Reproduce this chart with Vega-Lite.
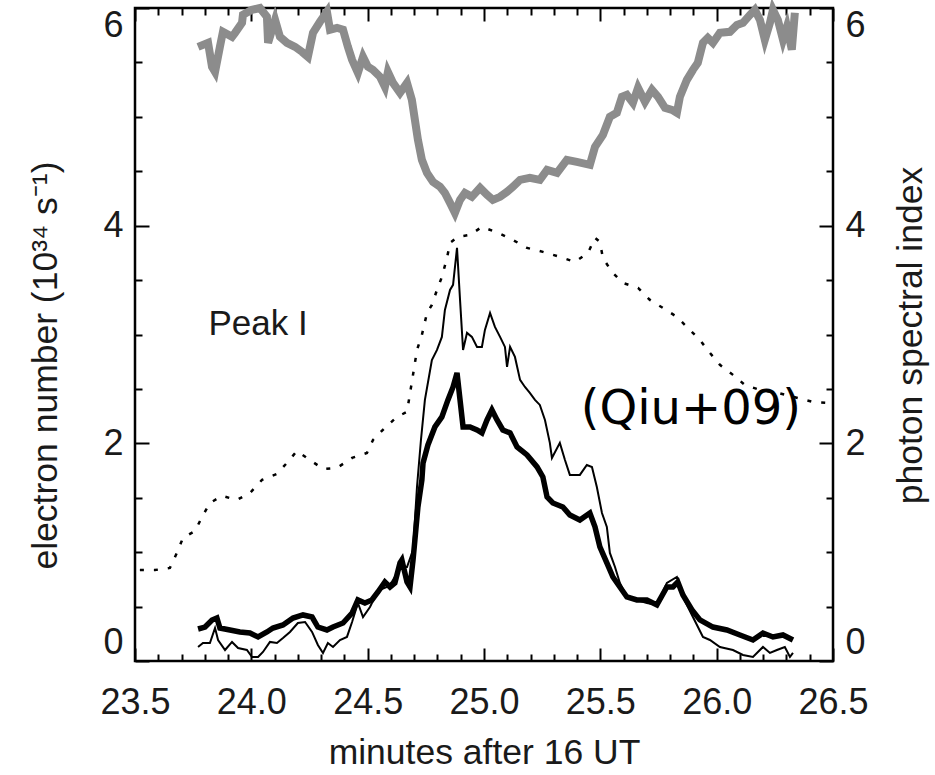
{
  "$schema": "https://vega.github.io/schema/vega-lite/v6.json",
  "autosize": {"type": "none"},
  "padding": {"left": 135, "top": 8, "right": 102, "bottom": 114},
  "width": 698,
  "height": 653,
  "background": "white",
  "config": {
    "view": {"stroke": "black", "strokeWidth": 2.5},
    "axis": {
      "grid": false, "domain": false, "tickColor": "black", "tickWidth": 2,
      "labelFont": "Liberation Sans", "labelFontSize": 36, "labelColor": "#1a1a1a",
      "titleFont": "Liberation Sans", "titleFontSize": 35.5, "titleFontWeight": "normal", "titleColor": "#1a1a1a",
      "labelFlush": false, "labelOverlap": false
    }
  },
  "datasets": {
    "thick": [
      {"t":23.771,"v":0.294},{"t":23.801,"v":0.312},{"t":23.831,"v":0.377},{"t":23.852,"v":0.395},{"t":23.865,"v":0.303},
      {"t":23.908,"v":0.285},{"t":23.951,"v":0.267},{"t":23.994,"v":0.257},{"t":24.029,"v":0.221},{"t":24.067,"v":0.267},
      {"t":24.093,"v":0.303},{"t":24.136,"v":0.331},{"t":24.179,"v":0.395},{"t":24.222,"v":0.423},{"t":24.261,"v":0.404},
      {"t":24.286,"v":0.312},{"t":24.325,"v":0.285},{"t":24.351,"v":0.312},{"t":24.394,"v":0.349},{"t":24.433,"v":0.441},
      {"t":24.458,"v":0.561},{"t":24.488,"v":0.533},{"t":24.518,"v":0.561},{"t":24.544,"v":0.634},{"t":24.574,"v":0.726},
      {"t":24.596,"v":0.680},{"t":24.617,"v":0.717},{"t":24.639,"v":0.901},{"t":24.647,"v":0.928},{"t":24.669,"v":0.726},
      {"t":24.682,"v":0.680},{"t":24.695,"v":0.928},{"t":24.703,"v":1.112},{"t":24.716,"v":1.415},{"t":24.733,"v":1.664},
      {"t":24.738,"v":1.820},{"t":24.759,"v":1.985},{"t":24.789,"v":2.151},{"t":24.819,"v":2.243},{"t":24.845,"v":2.399},
      {"t":24.867,"v":2.518},{"t":24.884,"v":2.647},{"t":24.897,"v":2.399},{"t":24.910,"v":2.151},{"t":24.940,"v":2.151},
      {"t":24.970,"v":2.123},{"t":24.991,"v":2.096},{"t":25.013,"v":2.215},{"t":25.034,"v":2.307},{"t":25.056,"v":2.215},
      {"t":25.081,"v":2.123},{"t":25.112,"v":2.096},{"t":25.142,"v":1.967},{"t":25.185,"v":1.893},{"t":25.228,"v":1.783},
      {"t":25.253,"v":1.691},{"t":25.271,"v":1.507},{"t":25.296,"v":1.452},{"t":25.339,"v":1.415},{"t":25.369,"v":1.342},
      {"t":25.412,"v":1.296},{"t":25.455,"v":1.360},{"t":25.477,"v":1.232},{"t":25.498,"v":1.048},{"t":25.528,"v":0.901},
      {"t":25.554,"v":0.772},{"t":25.584,"v":0.680},{"t":25.614,"v":0.588},{"t":25.657,"v":0.561},{"t":25.700,"v":0.561},
      {"t":25.743,"v":0.515},{"t":25.786,"v":0.680},{"t":25.812,"v":0.680},{"t":25.833,"v":0.726},{"t":25.855,"v":0.607},
      {"t":25.894,"v":0.469},{"t":25.928,"v":0.377},{"t":25.984,"v":0.312},{"t":26.044,"v":0.285},{"t":26.100,"v":0.239},
      {"t":26.156,"v":0.193},{"t":26.199,"v":0.257},{"t":26.242,"v":0.221},{"t":26.285,"v":0.239},{"t":26.328,"v":0.193}
    ],
    "thin": [
      {"t":23.771,"v":0.129},{"t":23.792,"v":0.165},{"t":23.822,"v":0.165},{"t":23.844,"v":0.303},{"t":23.857,"v":0.193},
      {"t":23.887,"v":0.101},{"t":23.917,"v":0.175},{"t":23.943,"v":0.119},{"t":23.981,"v":0.101},{"t":24.003,"v":0.037},
      {"t":24.029,"v":0.037},{"t":24.050,"v":0.083},{"t":24.080,"v":0.175},{"t":24.110,"v":0.165},{"t":24.136,"v":0.211},
      {"t":24.166,"v":0.267},{"t":24.200,"v":0.349},{"t":24.231,"v":0.358},{"t":24.261,"v":0.267},{"t":24.286,"v":0.147},
      {"t":24.308,"v":0.074},{"t":24.329,"v":0.165},{"t":24.351,"v":0.129},{"t":24.381,"v":0.193},{"t":24.411,"v":0.221},
      {"t":24.433,"v":0.358},{"t":24.458,"v":0.533},{"t":24.480,"v":0.404},{"t":24.510,"v":0.496},{"t":24.531,"v":0.588},
      {"t":24.553,"v":0.653},{"t":24.583,"v":0.680},{"t":24.604,"v":0.726},{"t":24.626,"v":0.809},{"t":24.647,"v":0.864},
      {"t":24.669,"v":0.864},{"t":24.695,"v":1.020},{"t":24.712,"v":1.599},{"t":24.729,"v":2.031},{"t":24.746,"v":2.399},
      {"t":24.776,"v":2.766},{"t":24.798,"v":2.858},{"t":24.819,"v":2.978},{"t":24.832,"v":3.226},{"t":24.854,"v":3.410},
      {"t":24.867,"v":3.456},{"t":24.884,"v":3.796},{"t":24.897,"v":3.318},{"t":24.910,"v":2.858},{"t":24.927,"v":3.015},
      {"t":24.948,"v":2.978},{"t":24.970,"v":2.886},{"t":24.991,"v":2.886},{"t":25.004,"v":3.042},{"t":25.026,"v":3.198},
      {"t":25.047,"v":3.070},{"t":25.069,"v":2.978},{"t":25.090,"v":2.886},{"t":25.099,"v":2.702},{"t":25.112,"v":2.886},
      {"t":25.133,"v":2.794},{"t":25.155,"v":2.583},{"t":25.176,"v":2.518},{"t":25.197,"v":2.463},{"t":25.219,"v":2.399},
      {"t":25.240,"v":2.353},{"t":25.262,"v":2.215},{"t":25.283,"v":2.004},{"t":25.292,"v":1.866},{"t":25.326,"v":2.004},
      {"t":25.348,"v":1.847},{"t":25.369,"v":1.710},{"t":25.412,"v":1.710},{"t":25.442,"v":1.801},{"t":25.464,"v":1.783},
      {"t":25.485,"v":1.599},{"t":25.507,"v":1.360},{"t":25.528,"v":1.232},{"t":25.541,"v":0.993},{"t":25.563,"v":0.864},
      {"t":25.584,"v":0.717},{"t":25.614,"v":0.588},{"t":25.657,"v":0.561},{"t":25.700,"v":0.533},{"t":25.743,"v":0.515},
      {"t":25.786,"v":0.717},{"t":25.829,"v":0.772},{"t":25.855,"v":0.588},{"t":25.898,"v":0.404},{"t":25.941,"v":0.221},
      {"t":25.971,"v":0.193},{"t":26.014,"v":0.129},{"t":26.070,"v":0.101},{"t":26.113,"v":0.055},{"t":26.156,"v":0.037},
      {"t":26.199,"v":0.129},{"t":26.229,"v":0.074},{"t":26.259,"v":0.101},{"t":26.293,"v":0.129},{"t":26.315,"v":0.037},
      {"t":26.328,"v":0.074}
    ],
    "grey": [
      {"t":23.771,"v":5.643},{"t":23.814,"v":5.680},{"t":23.831,"v":5.460},{"t":23.844,"v":5.413},{"t":23.865,"v":5.643},
      {"t":23.878,"v":5.781},{"t":23.917,"v":5.735},{"t":23.930,"v":5.772},{"t":23.960,"v":5.864},{"t":23.964,"v":5.937},
      {"t":24.003,"v":5.983},{"t":24.037,"v":6.0},{"t":24.067,"v":5.919},{"t":24.072,"v":5.680},{"t":24.102,"v":5.891},
      {"t":24.123,"v":5.735},{"t":24.153,"v":5.680},{"t":24.188,"v":5.643},{"t":24.218,"v":5.597},{"t":24.243,"v":5.551},
      {"t":24.265,"v":5.772},{"t":24.295,"v":5.873},{"t":24.325,"v":5.965},{"t":24.338,"v":5.800},{"t":24.368,"v":5.818},
      {"t":24.394,"v":5.800},{"t":24.415,"v":5.643},{"t":24.433,"v":5.524},{"t":24.458,"v":5.404},{"t":24.480,"v":5.551},
      {"t":24.501,"v":5.460},{"t":24.523,"v":5.432},{"t":24.553,"v":5.368},{"t":24.574,"v":5.276},{"t":24.587,"v":5.413},
      {"t":24.609,"v":5.312},{"t":24.639,"v":5.221},{"t":24.669,"v":5.312},{"t":24.690,"v":5.156},{"t":24.703,"v":4.972},
      {"t":24.716,"v":4.789},{"t":24.733,"v":4.605},{"t":24.755,"v":4.485},{"t":24.781,"v":4.402},{"t":24.811,"v":4.357},
      {"t":24.832,"v":4.301},{"t":24.854,"v":4.209},{"t":24.875,"v":4.118},{"t":24.897,"v":4.237},{"t":24.918,"v":4.301},
      {"t":24.948,"v":4.265},{"t":24.983,"v":4.347},{"t":25.013,"v":4.283},{"t":25.038,"v":4.237},{"t":25.069,"v":4.265},
      {"t":25.099,"v":4.311},{"t":25.124,"v":4.357},{"t":25.155,"v":4.421},{"t":25.197,"v":4.439},{"t":25.240,"v":4.421},
      {"t":25.271,"v":4.513},{"t":25.314,"v":4.485},{"t":25.356,"v":4.605},{"t":25.399,"v":4.586},{"t":25.455,"v":4.559},
      {"t":25.477,"v":4.724},{"t":25.511,"v":4.834},{"t":25.541,"v":5.000},{"t":25.571,"v":5.037},{"t":25.593,"v":5.184},
      {"t":25.614,"v":5.202},{"t":25.640,"v":5.129},{"t":25.662,"v":5.267},{"t":25.692,"v":5.138},{"t":25.722,"v":5.248},
      {"t":25.748,"v":5.184},{"t":25.778,"v":5.083},{"t":25.808,"v":5.064},{"t":25.829,"v":5.037},{"t":25.842,"v":5.184},
      {"t":25.872,"v":5.340},{"t":25.898,"v":5.432},{"t":25.919,"v":5.496},{"t":25.941,"v":5.680},{"t":25.962,"v":5.726},
      {"t":25.984,"v":5.680},{"t":26.014,"v":5.772},{"t":26.057,"v":5.781},{"t":26.087,"v":5.845},{"t":26.113,"v":5.864},
      {"t":26.143,"v":5.937},{"t":26.164,"v":5.983},{"t":26.186,"v":5.891},{"t":26.207,"v":5.708},{"t":26.229,"v":5.864},
      {"t":26.242,"v":5.983},{"t":26.263,"v":5.891},{"t":26.285,"v":5.708},{"t":26.302,"v":5.827},{"t":26.323,"v":5.616},
      {"t":26.336,"v":5.956}
    ],
    "dot": [
      {"t":23.521,"v":0.836},{"t":23.586,"v":0.836},{"t":23.650,"v":0.855},{"t":23.680,"v":0.993},{"t":23.706,"v":1.130},
      {"t":23.758,"v":1.195},{"t":23.788,"v":1.323},{"t":23.822,"v":1.452},{"t":23.874,"v":1.517},{"t":23.938,"v":1.480},
      {"t":23.994,"v":1.544},{"t":24.046,"v":1.664},{"t":24.110,"v":1.719},{"t":24.153,"v":1.820},{"t":24.196,"v":1.930},
      {"t":24.252,"v":1.847},{"t":24.308,"v":1.765},{"t":24.368,"v":1.774},{"t":24.433,"v":1.866},{"t":24.497,"v":1.912},
      {"t":24.523,"v":2.031},{"t":24.574,"v":2.142},{"t":24.626,"v":2.243},{"t":24.669,"v":2.289},{"t":24.690,"v":2.564},
      {"t":24.712,"v":2.858},{"t":24.733,"v":2.996},{"t":24.755,"v":3.198},{"t":24.776,"v":3.272},{"t":24.798,"v":3.410},
      {"t":24.819,"v":3.529},{"t":24.841,"v":3.704},{"t":24.854,"v":3.842},{"t":24.888,"v":3.897},{"t":24.940,"v":3.915},
      {"t":24.991,"v":3.989},{"t":25.060,"v":3.934},{"t":25.124,"v":3.869},{"t":25.185,"v":3.796},{"t":25.253,"v":3.759},
      {"t":25.326,"v":3.713},{"t":25.391,"v":3.667},{"t":25.447,"v":3.750},{"t":25.477,"v":3.888},{"t":25.498,"v":3.851},
      {"t":25.511,"v":3.704},{"t":25.550,"v":3.575},{"t":25.597,"v":3.474},{"t":25.662,"v":3.428},{"t":25.713,"v":3.318},
      {"t":25.769,"v":3.244},{"t":25.829,"v":3.162},{"t":25.876,"v":3.061},{"t":25.928,"v":2.950},{"t":25.971,"v":2.831},
      {"t":26.014,"v":2.721},{"t":26.070,"v":2.629},{"t":26.121,"v":2.537},{"t":26.186,"v":2.491},{"t":26.263,"v":2.463},
      {"t":26.414,"v":2.380},{"t":26.487,"v":2.371}
    ]
  },
  "resolve": {"axis": {"x": "independent", "y": "independent"}},
  "layer": [
    {
      "data": {"name": "dot"},
      "mark": {"type": "line", "color": "black", "strokeWidth": 2.5, "strokeDash": [4, 10], "strokeCap": "butt"},
      "encoding": {
        "x": {"field": "t", "type": "quantitative", "scale": {"domain": [23.5, 26.5], "nice": false, "zero": false},
          "axis": {"orient": "bottom", "values": [23.5, 24.0, 24.5, 25.0, 25.5, 26.0, 26.5], "format": ".1f", "tickSize": -13, "labelPadding": 37, "title": "minutes after 16 UT", "titlePadding": 15}},
        "y": {"field": "v", "type": "quantitative", "scale": {"domain": [0, 6], "nice": false, "zero": false},
          "axis": {"orient": "left", "values": [0, 2, 4, 6], "format": "d", "tickSize": -14, "labelPadding": 26, "labelFlush": true, "labelFlushOffset": 0, "title": "electron number (10³⁴ s⁻¹)", "titleX": -90, "titleY": 357, "titleBaseline": "middle", "titleAngle": 270}}
      }
    },
    {
      "data": {"name": "thin"},
      "mark": {"type": "line", "color": "black", "strokeWidth": 2},
      "encoding": {
        "x": {"field": "t", "type": "quantitative",
          "axis": {"orient": "bottom", "values": [23.6, 23.7, 23.8, 23.9, 24.1, 24.2, 24.3, 24.4, 24.6, 24.7, 24.8, 24.9, 25.1, 25.2, 25.3, 25.4, 25.6, 25.7, 25.8, 25.9, 26.1, 26.2, 26.3, 26.4], "labels": false, "tickSize": -7, "title": null}},
        "y": {"field": "v", "type": "quantitative",
          "axis": {"orient": "left", "values": [0.5, 1, 1.5, 2.5, 3, 3.5, 4.5, 5, 5.5], "labels": false, "tickSize": -7, "title": null}}
      }
    },
    {
      "data": {"name": "thick"},
      "mark": {"type": "line", "color": "black", "strokeWidth": 5.5},
      "encoding": {
        "x": {"field": "t", "type": "quantitative",
          "axis": {"orient": "top", "values": [23.5, 24.0, 24.5, 25.0, 25.5, 26.0, 26.5], "labels": false, "tickSize": -13, "title": null}},
        "y": {"field": "v", "type": "quantitative",
          "axis": {"orient": "right", "values": [0.5, 1, 1.5, 2.5, 3, 3.5, 4.5, 5, 5.5], "labels": false, "tickSize": -7, "title": null}}
      }
    },
    {
      "data": {"name": "grey"},
      "mark": {"type": "line", "color": "#8c8c8c", "strokeWidth": 8},
      "encoding": {
        "x": {"field": "t", "type": "quantitative",
          "axis": {"orient": "top", "values": [23.6, 23.7, 23.8, 23.9, 24.1, 24.2, 24.3, 24.4, 24.6, 24.7, 24.8, 24.9, 25.1, 25.2, 25.3, 25.4, 25.6, 25.7, 25.8, 25.9, 26.1, 26.2, 26.3, 26.4], "labels": false, "tickSize": -7, "title": null}},
        "y": {"field": "v", "type": "quantitative",
          "axis": {"orient": "right", "values": [0, 2, 4, 6], "format": "d", "tickSize": -14, "labelPadding": 26, "labelFlush": true, "labelFlushOffset": 0, "title": "photon spectral index", "titleX": 77, "titleY": 327, "titleBaseline": "middle", "titleAngle": 270}}
      }
    },
    {
      "data": {"values": [{"t": 24.029, "v": 3.10, "label": "Peak I"}]},
      "mark": {"type": "text", "font": "Liberation Sans", "fontSize": 35, "color": "#1a1a1a", "align": "center", "baseline": "middle"},
      "encoding": {
        "x": {"field": "t", "type": "quantitative", "axis": null},
        "y": {"field": "v", "type": "quantitative", "axis": null},
        "text": {"field": "label"}
      }
    },
    {
      "data": {"values": [{"t": 25.889, "v": 2.31, "label": "(Qiu+09)"}]},
      "mark": {"type": "text", "font": "DejaVu Sans", "fontSize": 48, "color": "black", "align": "center", "baseline": "middle"},
      "encoding": {
        "x": {"field": "t", "type": "quantitative", "axis": null},
        "y": {"field": "v", "type": "quantitative", "axis": null},
        "text": {"field": "label"}
      }
    }
  ]
}
